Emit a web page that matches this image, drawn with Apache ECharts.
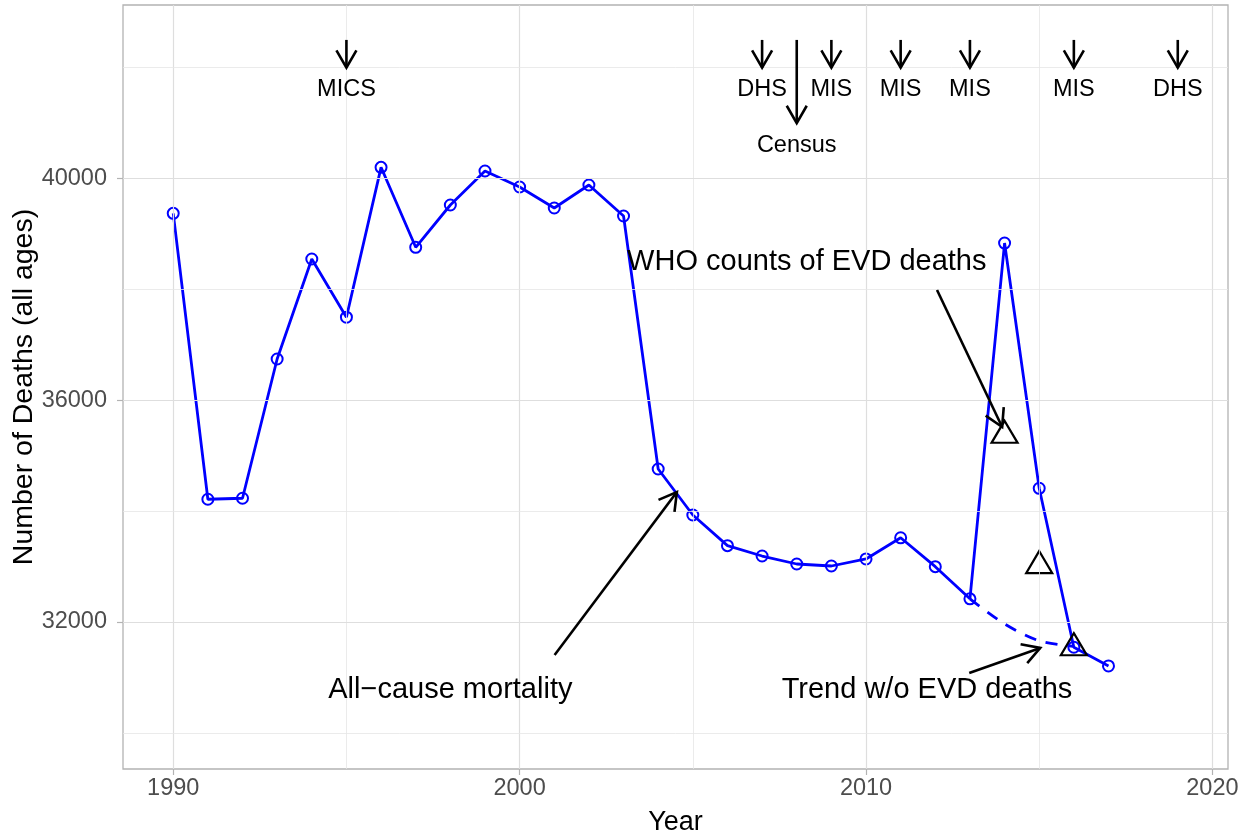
<!DOCTYPE html>
<html>
<head>
<meta charset="utf-8">
<script src="https://cdn.jsdelivr.net/npm/echarts@6/dist/echarts.min.js"></script>
<style>
html,body{margin:0;padding:0;background:#fff;}
#c{width:1247px;height:837px;}
</style>
</head>
<body>
<div id="c"></div>
<script>
// ---- data ----
const years = [1990,1991,1992,1993,1994,1995,1996,1997,1998,1999,2000,2001,2002,2003,2004,2005,2006,2007,2008,2009,2010,2011,2012,2013,2014,2015,2016,2017];
const deaths = [39372,34214,34232,36744,38548,37498,40202,38759,39522,40135,39847,39468,39883,39324,34760,33930,33377,33190,33046,33010,33137,33519,32998,32418,38836,34412,31544,31207];
const trendYears = [2013,2014,2015,2016];
const trendValues = [32418,31966,31660,31560];
const whoYears = [2014,2015,2016];
const whoValues = [35430,33080,31600];

const surveyYears = [1995,2007,2008,2009,2011,2013,2016,2019];
const surveyLabels = ['MICS','DHS','Census','MIS','MIS','MIS','MIS','DHS'];
const surveyArrowTop = [42500,42500,42500,42500,42500,42500,42500,42500];
const surveyArrowTip = [42000,42000,41000,42000,42000,42000,42000,42000];
const surveyLabelY = [41600,41600,40600,41600,41600,41600,41600,41600];

const noteLabels = ['WHO counts of EVD deaths','All\u2212cause mortality','Trend w/o EVD deaths'];
const noteX = [2008.29,1998.0,2011.76];
const noteY = [38494,30774,30774];
const noteArrowFrom = [[2012.05,37989],[2001.01,31405],[2012.98,31081]];
const noteArrowTo = [[2013.93,35518],[2004.54,34345],[2015.03,31532]];

const xTicks = [1990,2000,2010,2020];
const xMinor = [1995,2005,2015];
const yTicks = [32000,36000,40000];
const yMinor = [30000,34000,38000,42000];

const FONT = '"Liberation Sans", Arial, Helvetica, sans-serif';

// ---- build ----
const mainData = years.map((y,i)=>[y,deaths[i]]);
const trendData = trendYears.map((y,i)=>[y,trendValues[i]]);
const whoData = whoYears.map((y,i)=>[y,whoValues[i]]);
const arrowData = [];
surveyYears.forEach((y,i)=>arrowData.push([y,surveyArrowTop[i],y,surveyArrowTip[i]]));
noteArrowFrom.forEach((f,i)=>arrowData.push([f[0],f[1],noteArrowTo[i][0],noteArrowTo[i][1]]));
const surveyTextData = surveyYears.map((y,i)=>[y,surveyLabelY[i]]);
const noteTextData = noteX.map((x,i)=>[x,noteY[i]]);

const gridLines = [];
xTicks.forEach(v=>gridLines.push({xAxis:v,lineStyle:{color:'#dedede',width:1.2,type:'solid'}}));
xMinor.forEach(v=>gridLines.push({xAxis:v,lineStyle:{color:'#e6e6e6',width:0.8,type:'solid'}}));
yTicks.forEach(v=>gridLines.push({yAxis:v,lineStyle:{color:'#dedede',width:1.2,type:'solid'}}));
yMinor.forEach(v=>gridLines.push({yAxis:v,lineStyle:{color:'#e6e6e6',width:0.8,type:'solid'}}));

function arrowItem(params, api){
  const p1 = api.coord([api.value(0), api.value(1)]);
  const p2 = api.coord([api.value(2), api.value(3)]);
  const ang = Math.atan2(p2[1]-p1[1], p2[0]-p1[0]);
  const L = 20, a = Math.PI/6;
  const h1 = [p2[0]-L*Math.cos(ang-a), p2[1]-L*Math.sin(ang-a)];
  const h2 = [p2[0]-L*Math.cos(ang+a), p2[1]-L*Math.sin(ang+a)];
  return {type:'group', children:[
    {type:'line', shape:{x1:p1[0],y1:p1[1],x2:p2[0],y2:p2[1]}, style:{stroke:'#000',lineWidth:2.6}},
    {type:'polyline', shape:{points:[h1,p2,h2]}, style:{stroke:'#000',lineWidth:2.6,fill:null}}
  ]};
}
function textItemFactory(labels, size){
  return function(params, api){
    const p = api.coord([api.value(0), api.value(1)]);
    return {type:'text', x:p[0], y:p[1], style:{text:labels[params.dataIndex], fill:'#000', font: size+'px '+FONT, align:'center', verticalAlign:'middle'}};
  };
}
const plain = v => String(v);

const chart = echarts.init(document.getElementById('c'), null, {renderer:'canvas'});
chart.setOption({
  animation:false,
  backgroundColor:'#fff',
  grid:{left:123,right:19,top:5,bottom:68,show:true,borderColor:'#b3b3b3',borderWidth:1.3,backgroundColor:'transparent',
        containLabel:false, outerBoundsMode:'none'},
  xAxis:{
    type:'value', min:1988.55, max:2020.45,
    axisLine:{show:false},
    axisTick:{show:true,customValues:xTicks,length:6,lineStyle:{color:'#b3b3b3',width:1.2}},
    axisLabel:{customValues:xTicks,fontSize:23.5,color:'#4d4d4d',fontFamily:FONT,margin:8,formatter:plain,hideOverlap:false},
    splitLine:{show:false},
    name:'Year', nameLocation:'middle', nameGap:40, nameMoveOverlap:false,
    nameTextStyle:{fontSize:27,color:'#000',fontFamily:FONT}
  },
  yAxis:{
    type:'value', min:29348, max:43130,
    axisLine:{show:false},
    axisTick:{show:true,customValues:yTicks,length:6,lineStyle:{color:'#b3b3b3',width:1.2}},
    axisLabel:{customValues:yTicks,fontSize:23.5,color:'#4d4d4d',fontFamily:FONT,margin:16,formatter:plain},
    splitLine:{show:false},
    name:'Number of Deaths (all ages)', nameLocation:'middle', nameGap:84, nameRotate:90, nameMoveOverlap:false,
    nameTextStyle:{fontSize:28.5,color:'#000',fontFamily:FONT}
  },
  series:[
    {type:'line', data:[], silent:true, z:0,
     markLine:{silent:true,symbol:['none','none'],label:{show:false},animation:false,data:gridLines}},
    {type:'line', data:trendData, showSymbol:false, symbol:'none', smooth:0.3, z:2,
     lineStyle:{color:'#0000ff',width:2.8,type:[12,10]}},
    {type:'line', data:mainData, z:3, symbol:'circle', symbolSize:11,
     lineStyle:{color:'#0000ff',width:2.8},
     itemStyle:{color:'rgba(0,0,0,0)',borderColor:'#0000ff',borderWidth:2}},
    {type:'scatter', data:whoData, z:4, symbol:'triangle', symbolSize:[26,22],
     itemStyle:{color:'rgba(0,0,0,0)',borderColor:'#000',borderWidth:2.2,opacity:1}},
    {type:'custom', data:arrowData, renderItem:arrowItem, z:5, silent:true,
     encode:{x:[0,2],y:[1,3]}},
    {type:'custom', data:surveyTextData, renderItem:textItemFactory(surveyLabels,23.5), z:6, silent:true,
     encode:{x:0,y:1}},
    {type:'custom', data:noteTextData, renderItem:textItemFactory(noteLabels,29), z:6, silent:true,
     encode:{x:0,y:1}}
  ]
});
</script>
</body>
</html>
